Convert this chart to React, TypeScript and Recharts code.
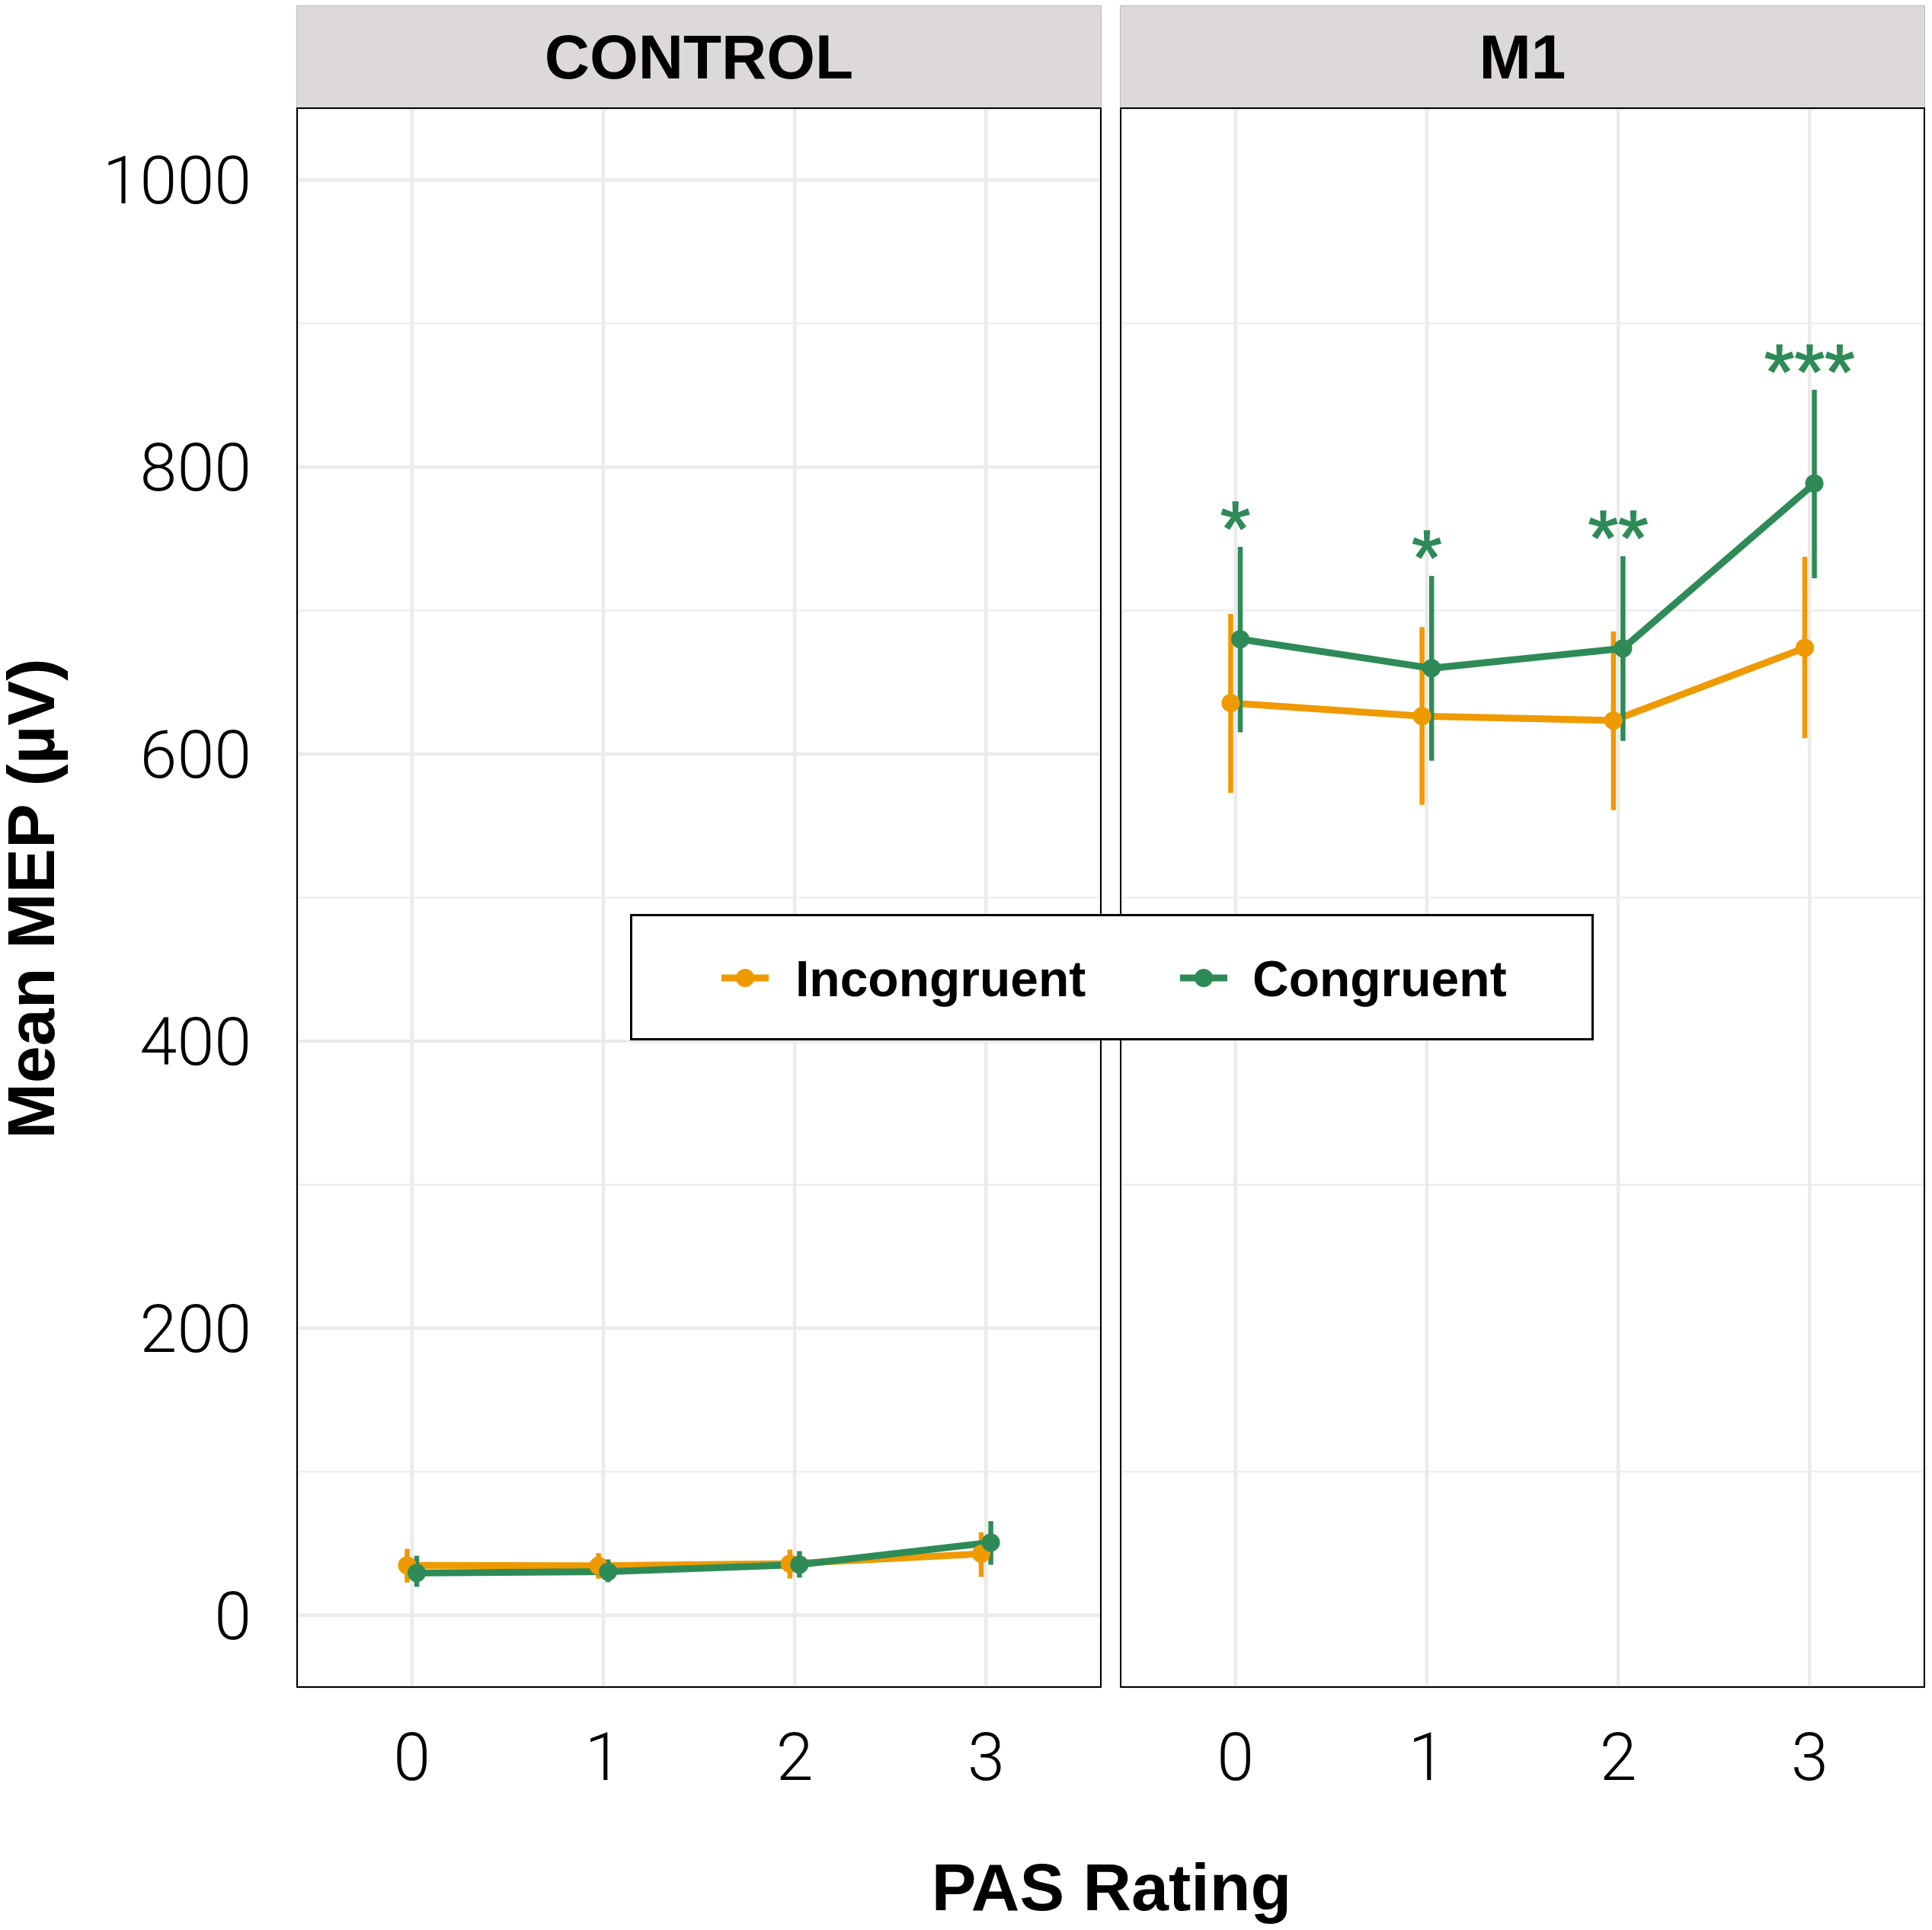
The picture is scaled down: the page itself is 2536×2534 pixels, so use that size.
import React from "react";
import {
  CartesianGrid,
  ComposedChart,
  ErrorBar,
  Line,
  ReferenceLine,
  XAxis,
  YAxis,
} from "recharts";

// PAS rating categories and y ticks
const pasRatings = [0, 1, 2, 3];
const yTicks = [0, 200, 400, 600, 800, 1000];
const yMinorTicks = [100, 300, 500, 700, 900];
const panelNames = ["CONTROL", "M1"];
const seriesNames = ["Incongruent", "Congruent"];

// CONTROL panel: mean MEP and CI bounds
const controlIncongruentMean = [34.8, 34.5, 36.0, 42.8];
const controlIncongruentLower = [22.8, 25.5, 25.6, 26.7];
const controlIncongruentUpper = [46.3, 43.3, 45.8, 57.8];
const controlCongruentMean = [29.5, 30.4, 35.3, 50.7];
const controlCongruentLower = [19.8, 23.1, 26.3, 35.2];
const controlCongruentUpper = [41.5, 38.9, 44.7, 65.6];

// M1 panel
const m1IncongruentMean = [635.6, 626.4, 623.4, 674.0];
const m1IncongruentLower = [572.9, 564.6, 560.9, 611.0];
const m1IncongruentUpper = [697.7, 688.5, 685.5, 737.5];
const m1CongruentMean = [680.0, 659.8, 673.6, 788.5];
const m1CongruentLower = [615.2, 595.4, 609.2, 722.5];
const m1CongruentUpper = [744.4, 724.1, 737.9, 853.8];
const m1Stars = ["*", "*", "**", "***"];

const ORANGE = "#EE9A00";
const GREEN = "#2E8B57";
const GRID = "#EBEBEB";
const DODGE = 0.025;

const BOLD = "'Liberation Sans', Arial, Helvetica, sans-serif";
const LIGHT = "Roboto, 'Liberation Sans', sans-serif";

const PLOT_TOP = 142;
const PLOT_H = 2073;
const XAXIS_H = 150;

const toPoints = (mean: number[], lower: number[], upper: number[], shift: number) =>
  pasRatings.map((p, i) => ({
    x: p + shift,
    y: mean[i],
    err: [mean[i] - lower[i], upper[i] - mean[i]],
  }));

const starPoints = (labels: string[], upper: number[]) =>
  pasRatings.map((p, i) => ({ x: p, y: upper[i], label: labels[i] }));

const renderStar = (props: any) => {
  const { cx, cy, payload, index } = props;
  if (cx == null || cy == null) return <g key={index} />;
  return (
    <text
      key={index}
      x={cx}
      y={cy + 11}
      textAnchor="middle"
      fontSize={102}
      fontFamily={BOLD}
      stroke={GREEN}
      strokeWidth={1.5}
      fill={GREEN}
    >
      {payload.label}
    </text>
  );
};

interface PanelProps {
  left: number;
  width: number;
  showY: boolean;
  incongruent: ReturnType<typeof toPoints>;
  congruent: ReturnType<typeof toPoints>;
  stars?: ReturnType<typeof starPoints>;
}

function Panel({ left, width, showY, incongruent, congruent, stars }: PanelProps) {
  const tickStyle = { fontSize: 88, fontFamily: LIGHT, fontWeight: 300, fill: "#000" };
  return (
    <div style={{ position: "absolute", left, top: PLOT_TOP }}>
      <ComposedChart
        width={width}
        height={PLOT_H + XAXIS_H}
        margin={{ top: 0, right: 0, bottom: 0, left: 0 }}
      >
        <CartesianGrid stroke={GRID} strokeWidth={4.5} />
        {yMinorTicks.map((v) => (
          <ReferenceLine key={v} y={v} stroke={GRID} strokeWidth={2.2} />
        ))}
        <XAxis
          dataKey="x"
          type="number"
          domain={[-0.6, 3.6]}
          ticks={pasRatings}
          allowDataOverflow
          axisLine={false}
          tickLine={false}
          tickSize={0}
          tickMargin={60}
          height={XAXIS_H}
          tick={tickStyle}
        />
        <YAxis
          dataKey="y"
          type="number"
          domain={[-50, 1050]}
          ticks={yTicks}
          allowDataOverflow
          axisLine={false}
          tickLine={false}
          tickSize={0}
          tickMargin={60}
          width={showY ? 390 : 0}
          tick={showY ? tickStyle : false}
        />
        <Line
          data={incongruent}
          dataKey="y"
          name={seriesNames[0]}
          stroke={ORANGE}
          strokeWidth={9}
          dot={{ r: 12, fill: ORANGE, stroke: "none" }}
          activeDot={false}
          isAnimationActive={false}
        >
          <ErrorBar dataKey="err" width={0} strokeWidth={6.5} stroke={ORANGE} direction="y" />
        </Line>
        <Line
          data={congruent}
          dataKey="y"
          name={seriesNames[1]}
          stroke={GREEN}
          strokeWidth={9}
          dot={{ r: 12, fill: GREEN, stroke: "none" }}
          activeDot={false}
          isAnimationActive={false}
        >
          <ErrorBar dataKey="err" width={0} strokeWidth={6.5} stroke={GREEN} direction="y" />
        </Line>
        {stars && (
          <Line
            data={stars}
            dataKey="y"
            stroke="none"
            dot={renderStar}
            activeDot={false}
            legendType="none"
            isAnimationActive={false}
          />
        )}
      </ComposedChart>
    </div>
  );
}

function Strip({ left, width, label }: { left: number; width: number; label: string }) {
  return (
    <>
      <div
        style={{
          position: "absolute",
          left,
          top: 7,
          width,
          height: PLOT_TOP - 7,
          boxSizing: "border-box",
          background: "#DCD9D8",
          border: "1.5px solid #BDBABA",
          borderBottom: "none",
          display: "flex",
          alignItems: "center",
          justifyContent: "center",
          fontFamily: BOLD,
          fontWeight: 700,
          fontSize: 82,
          color: "#000",
          lineHeight: 1,
        }}
      >
        {label}
      </div>
      <div
        style={{
          position: "absolute",
          left,
          top: PLOT_TOP - 1,
          width,
          height: PLOT_H + 2,
          boxSizing: "border-box",
          border: "2.5px solid #000",
          pointerEvents: "none",
        }}
      />
    </>
  );
}

function LegendBox() {
  const items = [
    { name: seriesNames[0], color: ORANGE, keyX: 120, textX: 217 },
    { name: seriesNames[1], color: GREEN, keyX: 722, textX: 817 },
  ];
  return (
    <svg
      width={1265}
      height={166}
      style={{ position: "absolute", left: 827, top: 1200 }}
    >
      <rect x={1.5} y={1.5} width={1262} height={163} fill="#fff" stroke="#000" strokeWidth={3} />
      {items.map((it) => (
        <g key={it.name}>
          <line x1={it.keyX} x2={it.keyX + 62} y1={84} y2={84} stroke={it.color} strokeWidth={9} />
          <circle cx={it.keyX + 31} cy={84} r={12} fill={it.color} />
          <text
            x={it.textX}
            y={108}
            fontFamily={BOLD}
            fontWeight={700}
            fontSize={66}
            fill="#000"
          >
            {it.name}
          </text>
        </g>
      ))}
    </svg>
  );
}

export default function App() {
  const ctrlInc = toPoints(controlIncongruentMean, controlIncongruentLower, controlIncongruentUpper, -DODGE);
  const ctrlCon = toPoints(controlCongruentMean, controlCongruentLower, controlCongruentUpper, DODGE);
  const m1Inc = toPoints(m1IncongruentMean, m1IncongruentLower, m1IncongruentUpper, -DODGE);
  const m1Con = toPoints(m1CongruentMean, m1CongruentLower, m1CongruentUpper, DODGE);
  const m1StarPts = starPoints(m1Stars, m1CongruentUpper);

  return (
    <div
      style={{
        position: "absolute",
        left: 0,
        top: 0,
        width: 2536,
        height: 2534,
        background: "#fff",
        overflow: "hidden",
      }}
    >
      <Panel left={0} width={1445} showY incongruent={ctrlInc} congruent={ctrlCon} />
      <Panel left={1471} width={1055} showY={false} incongruent={m1Inc} congruent={m1Con} stars={m1StarPts} />
      <Strip left={389} width={1057} label={panelNames[0]} />
      <Strip left={1470} width={1057} label={panelNames[1]} />
      <svg
        width={2536}
        height={2534}
        style={{ position: "absolute", left: 0, top: 0, pointerEvents: "none" }}
      >
        <text
          x={1459}
          y={2508}
          textAnchor="middle"
          fontFamily={BOLD}
          fontWeight={700}
          fontSize={88}
          fill="#000"
        >
          PAS Rating
        </text>
        <text
          transform="translate(71 1180) rotate(-90)"
          textAnchor="middle"
          fontFamily={BOLD}
          fontWeight={700}
          fontSize={88}
          fill="#000"
        >
          Mean MEP (µV)
        </text>
      </svg>
      <LegendBox />
    </div>
  );
}
